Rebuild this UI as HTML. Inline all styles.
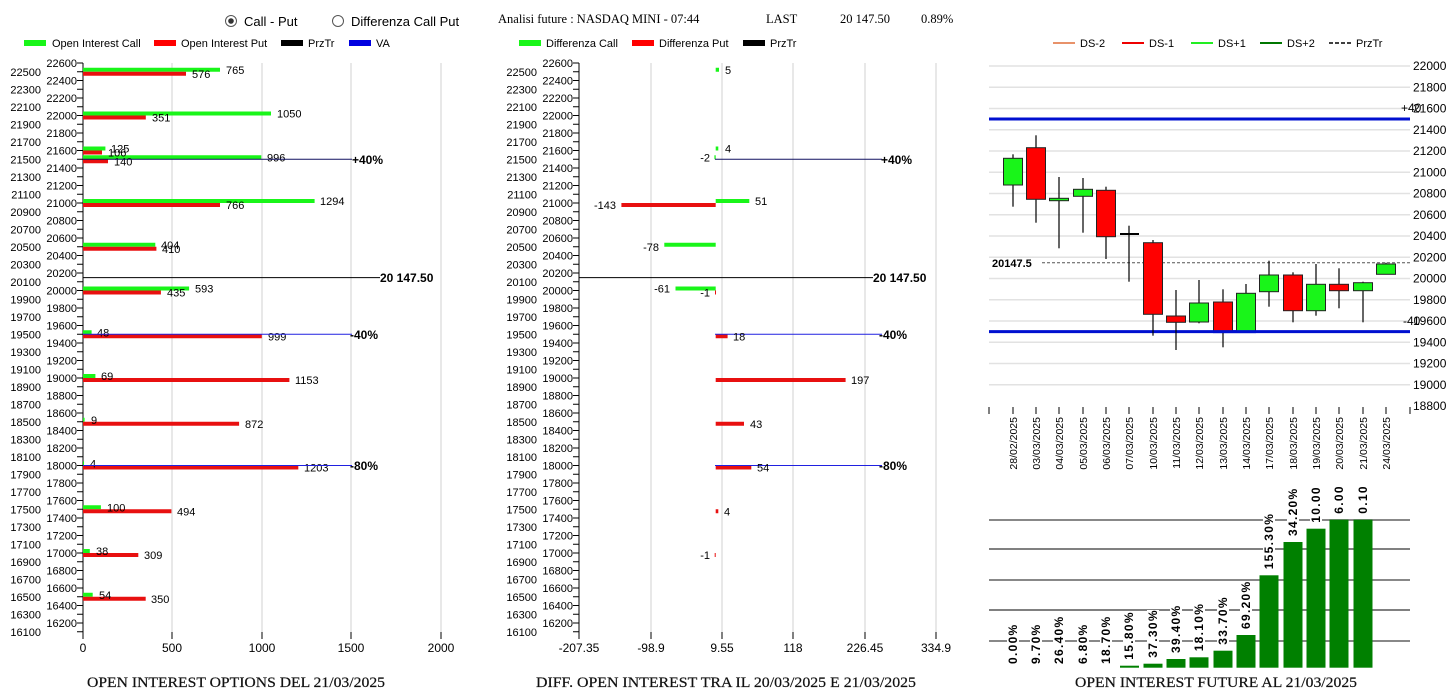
<!DOCTYPE html>
<html><head><meta charset="utf-8"><style>
html,body{margin:0;padding:0;background:#fff;}
svg{display:block;font-family:"Liberation Sans",sans-serif;}
.s{font-family:"Liberation Serif",serif;}
</style></head><body>
<svg width="1451" height="688" viewBox="0 0 1451 688" xmlns="http://www.w3.org/2000/svg">
<defs><clipPath id="bc"><rect x="980" y="487" width="471" height="200"/></clipPath></defs>
<!-- header -->
<circle cx="231" cy="21" r="5.5" fill="#fff" stroke="#555"/><circle cx="231" cy="21" r="2.8" fill="#333"/>
<text x="244" y="26" font-size="13">Call - Put</text>
<circle cx="338" cy="21" r="5.5" fill="#fff" stroke="#555"/>
<text x="351" y="26" font-size="13">Differenza Call Put</text>
<g class="s" font-size="12.5"><text x="498" y="23">Analisi future : NASDAQ MINI - 07:44</text><text x="766" y="23">LAST</text><text x="840" y="23">20 147.50</text><text x="921" y="23">0.89%</text></g>
<!-- legends -->
<g font-size="11">
<rect x="24" y="40" width="22" height="6" fill="#19f519"/><text x="52" y="47">Open Interest Call</text>
<rect x="154" y="40" width="22" height="6" fill="#f00"/><text x="181" y="47">Open Interest Put</text>
<rect x="281" y="40" width="22" height="6" fill="#000"/><text x="308" y="47">PrzTr</text>
<rect x="349" y="40" width="22" height="6" fill="#0000e0"/><text x="376" y="47">VA</text>
<rect x="519" y="40" width="22" height="6" fill="#19f519"/><text x="546" y="47">Differenza Call</text>
<rect x="632" y="40" width="22" height="6" fill="#f00"/><text x="659" y="47">Differenza Put</text>
<rect x="743" y="40" width="22" height="6" fill="#000"/><text x="770" y="47">PrzTr</text>
<line x1="1053" y1="43" x2="1075" y2="43" stroke="#e8926a" stroke-width="2"/><text x="1080" y="47">DS-2</text>
<line x1="1122" y1="43" x2="1144" y2="43" stroke="#e00" stroke-width="2"/><text x="1149" y="47">DS-1</text>
<line x1="1191" y1="43" x2="1213" y2="43" stroke="#2e2" stroke-width="2"/><text x="1218" y="47">DS+1</text>
<line x1="1260" y1="43" x2="1282" y2="43" stroke="#070" stroke-width="2"/><text x="1287" y="47">DS+2</text>
<line x1="1329" y1="43" x2="1351" y2="43" stroke="#000" stroke-width="1.5" stroke-dasharray="4 2"/><text x="1356" y="47">PrzTr</text>
</g>

<!-- LEFT CHART -->
<g stroke="#d8d8d8" stroke-width="1.2"><line x1="172" y1="63" x2="172" y2="632"/><line x1="262" y1="63" x2="262" y2="632"/><line x1="351" y1="63" x2="351" y2="632"/><line x1="441" y1="63" x2="441" y2="632"/></g>
<g stroke="#d8d8d8" stroke-width="1.2"><line x1="651" y1="63" x2="651" y2="632"/><line x1="722" y1="63" x2="722" y2="632"/><line x1="793" y1="63" x2="793" y2="632"/><line x1="865" y1="63" x2="865" y2="632"/><line x1="936" y1="63" x2="936" y2="632"/></g>

<g transform="translate(83,0)">
<line x1="0" y1="63" x2="0" y2="632" stroke="#000"/>
<line x1="-3" y1="62.5" x2="-3" y2="633" stroke="#000" stroke-width="6" stroke-dasharray="1 7.75"/>
<g font-size="11" text-anchor="end">
<text x="-6" y="67">22600</text><text x="-6" y="84.5">22400</text><text x="-6" y="102">22200</text><text x="-6" y="119.5">22000</text><text x="-6" y="137">21800</text><text x="-6" y="154.5">21600</text><text x="-6" y="172">21400</text><text x="-6" y="189.5">21200</text><text x="-6" y="207">21000</text><text x="-6" y="224.5">20800</text><text x="-6" y="242">20600</text><text x="-6" y="259.5">20400</text><text x="-6" y="277">20200</text><text x="-6" y="294.5">20000</text><text x="-6" y="312">19800</text><text x="-6" y="329.5">19600</text><text x="-6" y="347">19400</text><text x="-6" y="364.5">19200</text><text x="-6" y="382">19000</text><text x="-6" y="399.5">18800</text><text x="-6" y="417">18600</text><text x="-6" y="434.5">18400</text><text x="-6" y="452">18200</text><text x="-6" y="469.5">18000</text><text x="-6" y="487">17800</text><text x="-6" y="504.5">17600</text><text x="-6" y="522">17400</text><text x="-6" y="539.5">17200</text><text x="-6" y="557">17000</text><text x="-6" y="574.5">16800</text><text x="-6" y="592">16600</text><text x="-6" y="609.5">16400</text><text x="-6" y="627">16200</text>
<text x="-42" y="75.75">22500</text><text x="-42" y="93.25">22300</text><text x="-42" y="110.75">22100</text><text x="-42" y="128.25">21900</text><text x="-42" y="145.75">21700</text><text x="-42" y="163.25">21500</text><text x="-42" y="180.75">21300</text><text x="-42" y="198.25">21100</text><text x="-42" y="215.75">20900</text><text x="-42" y="233.25">20700</text><text x="-42" y="250.75">20500</text><text x="-42" y="268.25">20300</text><text x="-42" y="285.75">20100</text><text x="-42" y="303.25">19900</text><text x="-42" y="320.75">19700</text><text x="-42" y="338.25">19500</text><text x="-42" y="355.75">19300</text><text x="-42" y="373.25">19100</text><text x="-42" y="390.75">18900</text><text x="-42" y="408.25">18700</text><text x="-42" y="425.75">18500</text><text x="-42" y="443.25">18300</text><text x="-42" y="460.75">18100</text><text x="-42" y="478.25">17900</text><text x="-42" y="495.75">17700</text><text x="-42" y="513.25">17500</text><text x="-42" y="530.75">17300</text><text x="-42" y="548.25">17100</text><text x="-42" y="565.75">16900</text><text x="-42" y="583.25">16700</text><text x="-42" y="600.75">16500</text><text x="-42" y="618.25">16300</text><text x="-42" y="635.75">16100</text>
</g></g>

<g transform="translate(579,0)">
<line x1="0" y1="63" x2="0" y2="632" stroke="#000"/>
<line x1="-3" y1="62.5" x2="-3" y2="633" stroke="#000" stroke-width="6" stroke-dasharray="1 7.75"/>
<g font-size="11" text-anchor="end">
<text x="-6" y="67">22600</text><text x="-6" y="84.5">22400</text><text x="-6" y="102">22200</text><text x="-6" y="119.5">22000</text><text x="-6" y="137">21800</text><text x="-6" y="154.5">21600</text><text x="-6" y="172">21400</text><text x="-6" y="189.5">21200</text><text x="-6" y="207">21000</text><text x="-6" y="224.5">20800</text><text x="-6" y="242">20600</text><text x="-6" y="259.5">20400</text><text x="-6" y="277">20200</text><text x="-6" y="294.5">20000</text><text x="-6" y="312">19800</text><text x="-6" y="329.5">19600</text><text x="-6" y="347">19400</text><text x="-6" y="364.5">19200</text><text x="-6" y="382">19000</text><text x="-6" y="399.5">18800</text><text x="-6" y="417">18600</text><text x="-6" y="434.5">18400</text><text x="-6" y="452">18200</text><text x="-6" y="469.5">18000</text><text x="-6" y="487">17800</text><text x="-6" y="504.5">17600</text><text x="-6" y="522">17400</text><text x="-6" y="539.5">17200</text><text x="-6" y="557">17000</text><text x="-6" y="574.5">16800</text><text x="-6" y="592">16600</text><text x="-6" y="609.5">16400</text><text x="-6" y="627">16200</text>
<text x="-42" y="75.75">22500</text><text x="-42" y="93.25">22300</text><text x="-42" y="110.75">22100</text><text x="-42" y="128.25">21900</text><text x="-42" y="145.75">21700</text><text x="-42" y="163.25">21500</text><text x="-42" y="180.75">21300</text><text x="-42" y="198.25">21100</text><text x="-42" y="215.75">20900</text><text x="-42" y="233.25">20700</text><text x="-42" y="250.75">20500</text><text x="-42" y="268.25">20300</text><text x="-42" y="285.75">20100</text><text x="-42" y="303.25">19900</text><text x="-42" y="320.75">19700</text><text x="-42" y="338.25">19500</text><text x="-42" y="355.75">19300</text><text x="-42" y="373.25">19100</text><text x="-42" y="390.75">18900</text><text x="-42" y="408.25">18700</text><text x="-42" y="425.75">18500</text><text x="-42" y="443.25">18300</text><text x="-42" y="460.75">18100</text><text x="-42" y="478.25">17900</text><text x="-42" y="495.75">17700</text><text x="-42" y="513.25">17500</text><text x="-42" y="530.75">17300</text><text x="-42" y="548.25">17100</text><text x="-42" y="565.75">16900</text><text x="-42" y="583.25">16700</text><text x="-42" y="600.75">16500</text><text x="-42" y="618.25">16300</text><text x="-42" y="635.75">16100</text>
</g></g>

<!-- x axes -->
<g stroke="#000"><line x1="83" y1="632" x2="83" y2="639"/><line x1="172" y1="632" x2="172" y2="639"/><line x1="262" y1="632" x2="262" y2="639"/><line x1="351" y1="632" x2="351" y2="639"/><line x1="441" y1="632" x2="441" y2="639"/>
<line x1="579" y1="632" x2="579" y2="639"/><line x1="651" y1="632" x2="651" y2="639"/><line x1="722" y1="632" x2="722" y2="639"/><line x1="793" y1="632" x2="793" y2="639"/><line x1="865" y1="632" x2="865" y2="639"/><line x1="936" y1="632" x2="936" y2="639"/></g>
<g font-size="12" text-anchor="middle"><text x="83" y="652">0</text><text x="172" y="652">500</text><text x="262" y="652">1000</text><text x="351" y="652">1500</text><text x="441" y="652">2000</text>
<text x="579" y="652">-207.35</text><text x="651" y="652">-98.9</text><text x="722" y="652">9.55</text><text x="793" y="652">118</text><text x="865" y="652">226.45</text><text x="936" y="652">334.9</text></g>
<g class="s" font-size="14.5" fill="#111" stroke="#111" stroke-width="0.2"><text x="87" y="687" textLength="298" lengthAdjust="spacingAndGlyphs">OPEN INTEREST OPTIONS DEL 21/03/2025</text><text x="536" y="687" textLength="380" lengthAdjust="spacingAndGlyphs">DIFF. OPEN INTEREST TRA IL 20/03/2025 E 21/03/2025</text><text x="1075" y="687" textLength="282" lengthAdjust="spacingAndGlyphs">OPEN INTEREST FUTURE AL 21/03/2025</text></g>

<!-- left bars -->
<g fill="#19f519">
<rect x="83" y="67.75" width="137" height="4"/><rect x="83" y="111.5" width="188" height="4"/><rect x="83" y="146.5" width="22.4" height="4"/><rect x="83" y="155.25" width="178.3" height="4"/><rect x="83" y="199" width="231.6" height="4"/><rect x="83" y="242.75" width="72.3" height="4"/><rect x="83" y="286.5" width="106.1" height="4"/><rect x="83" y="330.25" width="8.6" height="4"/><rect x="83" y="374" width="12.4" height="4"/><rect x="83" y="417.75" width="1.6" height="4"/><rect x="83" y="461.5" width="1" height="4"/><rect x="83" y="505.25" width="17.9" height="4"/><rect x="83" y="549" width="6.8" height="4"/><rect x="83" y="592.75" width="9.7" height="4"/></g>
<g fill="#e81010">
<rect x="83" y="71.75" width="103" height="4"/><rect x="83" y="115.5" width="62.8" height="4"/><rect x="83" y="150.5" width="19" height="4"/><rect x="83" y="159.25" width="25" height="4"/><rect x="83" y="203" width="137" height="4"/><rect x="83" y="246.75" width="73.4" height="4"/><rect x="83" y="290.5" width="77.9" height="4"/><rect x="83" y="334.25" width="178.8" height="4"/><rect x="83" y="378" width="206.4" height="4"/><rect x="83" y="421.75" width="156.1" height="4"/><rect x="83" y="465.5" width="215.3" height="4"/><rect x="83" y="509.25" width="88.4" height="4"/><rect x="83" y="553" width="55.3" height="4"/><rect x="83" y="596.75" width="62.7" height="4"/></g>
<g font-size="11">
<text x="226" y="73.75">765</text><text x="192" y="77.75">576</text><text x="277" y="117.5">1050</text><text x="152" y="121.5">351</text><text x="111" y="152.5">125</text><text x="108" y="156.5">106</text><text x="267" y="161.25">996</text><text x="114" y="165.25">140</text><text x="320" y="205">1294</text><text x="226" y="209">766</text><text x="161" y="248.75">404</text><text x="162" y="252.75">410</text><text x="195" y="292.5">593</text><text x="167" y="296.5">435</text><text x="97" y="336.25">48</text><text x="268" y="340.25">999</text><text x="101" y="380">69</text><text x="295" y="384">1153</text><text x="91" y="423.75">9</text><text x="245" y="427.75">872</text><text x="90" y="467.5">4</text><text x="304" y="471.5">1203</text><text x="107" y="511.25">100</text><text x="177" y="515.25">494</text><text x="96" y="555">38</text><text x="144" y="559">309</text><text x="99" y="598.75">54</text><text x="151" y="602.75">350</text></g>
<line x1="83" y1="159.25" x2="352" y2="159.25" stroke="#101060"/>
<line x1="83" y1="277.6" x2="380" y2="277.6" stroke="#000"/>
<line x1="83" y1="334.25" x2="352" y2="334.25" stroke="#2020e0"/>
<line x1="83" y1="465.5" x2="352" y2="465.5" stroke="#2020e0"/>
<g font-size="12" font-weight="bold"><text x="352" y="164">+40%</text><text x="380" y="282">20 147.50</text><text x="350" y="339">-40%</text><text x="350" y="470">-80%</text></g>

<!-- middle bars -->
<g fill="#19f519"><rect x="715.7" y="67.75" width="3.3" height="4"/><rect x="715.7" y="146.5" width="2.6" height="4"/><rect x="714.4" y="155.25" width="1.3" height="4"/><rect x="715.7" y="199" width="33.6" height="4"/><rect x="664.3" y="242.75" width="51.4" height="4"/><rect x="675.5" y="286.5" width="40.2" height="4"/></g>
<g fill="#e81010"><rect x="621.4" y="203" width="94.3" height="4"/><rect x="715" y="290.5" width="1" height="4"/><rect x="715.7" y="334.25" width="11.9" height="4"/><rect x="715.7" y="378" width="129.9" height="4"/><rect x="715.7" y="421.75" width="28.3" height="4"/><rect x="715.7" y="465.5" width="35.6" height="4"/><rect x="715.7" y="509.25" width="2.6" height="4"/><rect x="714.7" y="553" width="1" height="4"/></g>
<line x1="715" y1="159.25" x2="882" y2="159.25" stroke="#101060"/>
<line x1="579" y1="277.6" x2="873" y2="277.6" stroke="#000"/>
<line x1="715" y1="334.25" x2="882" y2="334.25" stroke="#2020e0"/>
<line x1="715" y1="465.5" x2="882" y2="465.5" stroke="#2020e0"/>
<g font-size="12" font-weight="bold"><text x="881" y="164">+40%</text><text x="873" y="282">20 147.50</text><text x="879" y="339">-40%</text><text x="879" y="470">-80%</text></g>
<g font-size="11"><text x="725" y="73.75">5</text><text x="725" y="152.5">4</text><text x="710" y="161.25" text-anchor="end">-2</text><text x="755" y="205">51</text><text x="616" y="209" text-anchor="end">-143</text><text x="659" y="250.75" text-anchor="end">-78</text><text x="670" y="292.5" text-anchor="end">-61</text><text x="710" y="296.5" text-anchor="end">-1</text><text x="733" y="340.25">18</text><text x="851" y="384">197</text><text x="750" y="427.75">43</text><text x="757" y="471.5">54</text><text x="724" y="515.25">4</text><text x="710" y="559" text-anchor="end">-1</text></g>

<!-- CANDLE CHART -->
<g stroke="#e2e2e2" stroke-width="1.5">
<line x1="989" y1="66" x2="1410" y2="66"/><line x1="989" y1="87.25" x2="1410" y2="87.25"/><line x1="989" y1="108.5" x2="1410" y2="108.5"/><line x1="989" y1="129.75" x2="1410" y2="129.75"/><line x1="989" y1="151" x2="1410" y2="151"/><line x1="989" y1="172.25" x2="1410" y2="172.25"/><line x1="989" y1="193.5" x2="1410" y2="193.5"/><line x1="989" y1="214.75" x2="1410" y2="214.75"/><line x1="989" y1="236" x2="1410" y2="236"/><line x1="989" y1="257.25" x2="1410" y2="257.25"/><line x1="989" y1="278.5" x2="1410" y2="278.5"/><line x1="989" y1="299.75" x2="1410" y2="299.75"/><line x1="989" y1="321" x2="1410" y2="321"/><line x1="989" y1="342.25" x2="1410" y2="342.25"/><line x1="989" y1="363.5" x2="1410" y2="363.5"/><line x1="989" y1="384.75" x2="1410" y2="384.75"/></g>
<g font-size="12"><text x="1413" y="70">22000</text><text x="1413" y="91.25">21800</text><text x="1413" y="112.5">21600</text><text x="1413" y="133.75">21400</text><text x="1413" y="155">21200</text><text x="1413" y="176.25">21000</text><text x="1413" y="197.5">20800</text><text x="1413" y="218.75">20600</text><text x="1413" y="240">20400</text><text x="1413" y="261.25">20200</text><text x="1413" y="282.5">20000</text><text x="1413" y="303.75">19800</text><text x="1413" y="325">19600</text><text x="1413" y="346.25">19400</text><text x="1413" y="367.5">19200</text><text x="1413" y="388.75">19000</text><text x="1413" y="410">18800</text>
<text x="1401" y="112">+40</text><text x="1403" y="325">-40</text></g>
<line x1="989" y1="119" x2="1410" y2="119" stroke="#0010d0" stroke-width="3"/>
<line x1="989" y1="331.6" x2="1410" y2="331.6" stroke="#0010d0" stroke-width="3"/>
<line x1="1042" y1="262.8" x2="1410" y2="262.8" stroke="#555" stroke-dasharray="3 2"/>
<text x="992" y="267" font-size="11" font-weight="bold">20147.5</text>
<g stroke="#000" stroke-width="1.2">
<line x1="1013" y1="154.3" x2="1013" y2="206.7"/><line x1="1036" y1="135.3" x2="1036" y2="222.7"/><line x1="1059" y1="177" x2="1059" y2="248.3"/><line x1="1083" y1="178" x2="1083" y2="232.7"/><line x1="1106" y1="186.7" x2="1106" y2="259"/><line x1="1129" y1="225.7" x2="1129" y2="281.7"/><line x1="1153" y1="240" x2="1153" y2="335.7"/><line x1="1176" y1="290" x2="1176" y2="350"/><line x1="1199" y1="280" x2="1199" y2="323.3"/><line x1="1223" y1="289.3" x2="1223" y2="347.3"/><line x1="1246" y1="284" x2="1246" y2="331.3"/><line x1="1269" y1="260.7" x2="1269" y2="306.7"/><line x1="1293" y1="272.3" x2="1293" y2="322.3"/><line x1="1316" y1="264" x2="1316" y2="315.7"/><line x1="1339" y1="268.3" x2="1339" y2="308.3"/><line x1="1363" y1="281.7" x2="1363" y2="322.3"/><line x1="1386" y1="262.7" x2="1386" y2="274.3"/>
<line x1="1120" y1="234" x2="1139" y2="234" stroke-width="2"/></g>
<g stroke="#222" stroke-width="1">
<rect x="1003.5" y="158.3" width="19" height="26.7" fill="#19f519"/>
<rect x="1026.5" y="147.7" width="19" height="51.6" fill="#f00"/>
<rect x="1049.5" y="198.3" width="19" height="2.4" fill="#19f519"/>
<rect x="1073.5" y="189.3" width="19" height="7" fill="#19f519"/>
<rect x="1096.5" y="190.3" width="19" height="46.4" fill="#f00"/>
<rect x="1143.5" y="242.7" width="19" height="71.6" fill="#f00"/>
<rect x="1166.5" y="316" width="19" height="6.3" fill="#f00"/>
<rect x="1189.5" y="303" width="19" height="19" fill="#19f519"/>
<rect x="1213.5" y="302" width="19" height="29.3" fill="#f00"/>
<rect x="1236.5" y="293.3" width="19" height="38" fill="#19f519"/>
<rect x="1259.5" y="275" width="19" height="16.7" fill="#19f519"/>
<rect x="1283.5" y="275" width="19" height="35.7" fill="#f00"/>
<rect x="1306.5" y="284.3" width="19" height="26.4" fill="#19f519"/>
<rect x="1329.5" y="284.3" width="19" height="6.4" fill="#f00"/>
<rect x="1353.5" y="282.7" width="19" height="8" fill="#19f519"/>
<rect x="1376.5" y="264" width="19" height="10.3" fill="#19f519"/></g>
<line x1="1213" y1="331.6" x2="1256" y2="331.6" stroke="#0010d0" stroke-width="3"/>
<g stroke="#000"><line x1="989" y1="407" x2="989" y2="414"/><line x1="1013" y1="407" x2="1013" y2="414"/><line x1="1036" y1="407" x2="1036" y2="414"/><line x1="1059" y1="407" x2="1059" y2="414"/><line x1="1083" y1="407" x2="1083" y2="414"/><line x1="1106" y1="407" x2="1106" y2="414"/><line x1="1129" y1="407" x2="1129" y2="414"/><line x1="1153" y1="407" x2="1153" y2="414"/><line x1="1176" y1="407" x2="1176" y2="414"/><line x1="1199" y1="407" x2="1199" y2="414"/><line x1="1223" y1="407" x2="1223" y2="414"/><line x1="1246" y1="407" x2="1246" y2="414"/><line x1="1269" y1="407" x2="1269" y2="414"/><line x1="1293" y1="407" x2="1293" y2="414"/><line x1="1316" y1="407" x2="1316" y2="414"/><line x1="1339" y1="407" x2="1339" y2="414"/><line x1="1363" y1="407" x2="1363" y2="414"/><line x1="1386" y1="407" x2="1386" y2="414"/><line x1="1410" y1="407" x2="1410" y2="414"/></g>
<g font-size="10.5" text-anchor="end">
<text transform="translate(1017,417) rotate(-90)">28/02/2025</text><text transform="translate(1040,417) rotate(-90)">03/03/2025</text><text transform="translate(1063,417) rotate(-90)">04/03/2025</text><text transform="translate(1087,417) rotate(-90)">05/03/2025</text><text transform="translate(1110,417) rotate(-90)">06/03/2025</text><text transform="translate(1133,417) rotate(-90)">07/03/2025</text><text transform="translate(1157,417) rotate(-90)">10/03/2025</text><text transform="translate(1180,417) rotate(-90)">11/03/2025</text><text transform="translate(1203,417) rotate(-90)">12/03/2025</text><text transform="translate(1227,417) rotate(-90)">13/03/2025</text><text transform="translate(1250,417) rotate(-90)">14/03/2025</text><text transform="translate(1273,417) rotate(-90)">17/03/2025</text><text transform="translate(1297,417) rotate(-90)">18/03/2025</text><text transform="translate(1320,417) rotate(-90)">19/03/2025</text><text transform="translate(1343,417) rotate(-90)">20/03/2025</text><text transform="translate(1367,417) rotate(-90)">21/03/2025</text><text transform="translate(1390,417) rotate(-90)">24/03/2025</text></g>

<!-- BAR CHART -->
<g clip-path="url(#bc)">
<line x1="989" y1="520" x2="1410" y2="520" stroke="#888" stroke-width="2"/>
<line x1="989" y1="549" x2="1410" y2="549" stroke="#000"/>
<line x1="989" y1="580" x2="1410" y2="580" stroke="#888" stroke-width="2"/>
<line x1="989" y1="610" x2="1410" y2="610" stroke="#000"/>
<line x1="989" y1="641" x2="1410" y2="641" stroke="#888" stroke-width="2"/>
<g fill="#008000">
<rect x="1120" y="665.7" width="19" height="2"/><rect x="1143.5" y="663.7" width="19" height="4"/><rect x="1166.5" y="659" width="19" height="8.7"/><rect x="1189.5" y="657.3" width="19" height="10.4"/><rect x="1213.5" y="650.7" width="19" height="17"/><rect x="1236.5" y="635" width="19" height="32.7"/><rect x="1259.5" y="575.3" width="19" height="92.4"/><rect x="1283.5" y="542" width="19" height="125.7"/><rect x="1306.5" y="528.7" width="19" height="139"/><rect x="1329.5" y="519.7" width="19" height="148"/><rect x="1353.5" y="519.7" width="19" height="148"/></g>
<g fill="#fff">
<rect x="1007" y="624" width="12" height="40"/><rect x="1030" y="624" width="12" height="40"/><rect x="1053" y="617" width="12" height="47"/><rect x="1077" y="624" width="12" height="40"/><rect x="1100" y="617" width="12" height="47"/><rect x="1123" y="612" width="12" height="47"/><rect x="1147" y="610" width="12" height="47"/><rect x="1170" y="606" width="12" height="47"/><rect x="1193" y="604" width="12" height="47"/><rect x="1217" y="597" width="12" height="47"/><rect x="1240" y="581" width="12" height="47"/><rect x="1263" y="514" width="12" height="55"/><rect x="1287" y="489" width="12" height="47"/><rect x="1310" y="476" width="12" height="47"/><rect x="1333" y="473" width="12" height="40"/><rect x="1357" y="473" width="12" height="40"/></g>
<g font-size="12" font-weight="bold" letter-spacing="1.3">
<text transform="translate(1017,664) rotate(-90)">0.00%</text><text transform="translate(1040,664) rotate(-90)">9.70%</text><text transform="translate(1063,664) rotate(-90)">26.40%</text><text transform="translate(1087,664) rotate(-90)">6.80%</text><text transform="translate(1110,664) rotate(-90)">18.70%</text><text transform="translate(1133,659.7) rotate(-90)">15.80%</text><text transform="translate(1157,657.7) rotate(-90)">37.30%</text><text transform="translate(1180,653) rotate(-90)">39.40%</text><text transform="translate(1203,651.3) rotate(-90)">18.10%</text><text transform="translate(1227,644.7) rotate(-90)">33.70%</text><text transform="translate(1250,629) rotate(-90)">69.20%</text><text transform="translate(1273,569.3) rotate(-90)">155.30%</text><text transform="translate(1297,536) rotate(-90)">34.20%</text><text transform="translate(1320,522.7) rotate(-90)">10.00%</text><text transform="translate(1343,513.7) rotate(-90)">6.00%</text><text transform="translate(1367,513.7) rotate(-90)">0.10%</text></g>
</g>
</svg>
</body></html>
